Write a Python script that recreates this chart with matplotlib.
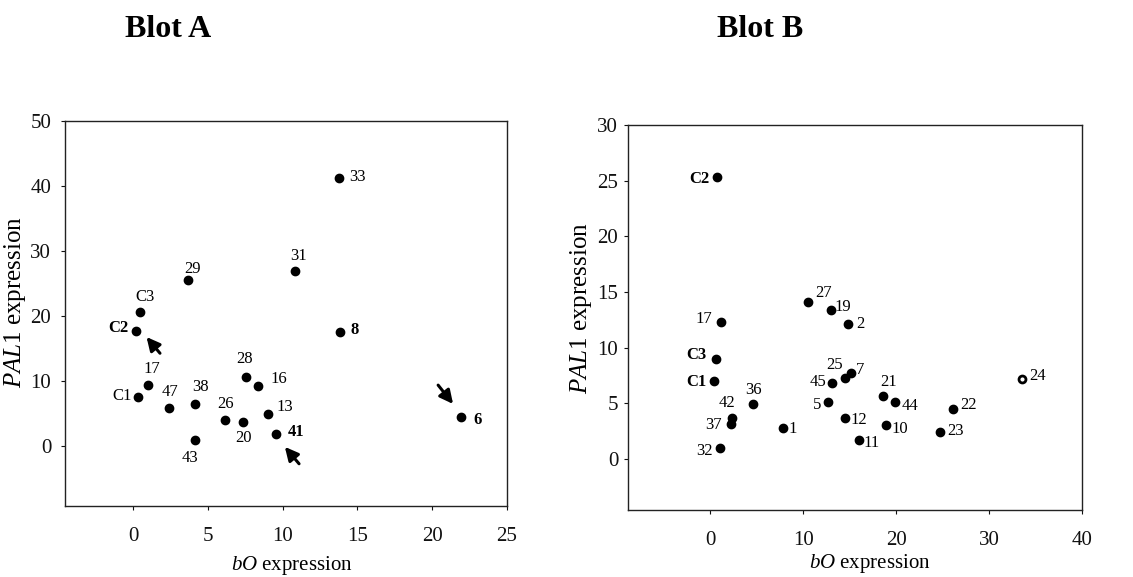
import matplotlib
matplotlib.use('Agg')
import matplotlib.pyplot as plt

plt.rcParams['font.family'] = ['Liberation Serif', 'DejaVu Serif']
plt.rcParams['mathtext.fontset'] = 'custom'
plt.rcParams['mathtext.rm'] = 'Liberation Serif'
plt.rcParams['mathtext.it'] = 'Liberation Serif:italic'

# Blot A: bO vs PAL1 expression per sample
a_names = ['33', '31', '29', 'C3', 'C2', '8', '28', '16', '17', 'C1',
           '47', '38', '26', '20', '13', '41', '43', '6']
a_bo = [13.8, 10.83, 3.68, 0.45, 0.18, 13.84, 7.54, 8.37, 1.0, 0.36,
        2.37, 4.15, 6.12, 7.34, 9.0, 9.53, 4.15, 21.94]
a_pal1 = [41.3, 27.0, 25.6, 20.7, 17.8, 17.5, 10.7, 9.3, 9.4, 7.6,
          5.9, 6.5, 4.0, 3.8, 5.0, 1.9, 1.0, 4.5]
a_bold = ['C2', '8', '41', '6']
# arrows (tail -> head) in data units
a_arrows = [((1.8, 14.3), (0.9, 16.8)),
            ((11.1, -2.7), (10.15, -0.1)),
            ((20.4, 9.4), (21.4, 6.5))]

# Blot B
b_names = ['C2', '27', '19', '2', '17', 'C3', 'C1', '25', '7', '45',
           '24', '21', '44', '5', '36', '22', '42', '37', '12', '1',
           '10', '23', '11', '32']
b_bo = [0.75, 10.54, 12.94, 14.8, 1.11, 0.57, 0.43, 14.48, 15.1, 13.15,
        33.5, 18.57, 19.9, 12.65, 4.55, 26.1, 2.37, 2.22, 14.55, 7.85,
        18.92, 24.7, 16.0, 1.0]
b_pal1 = [25.36, 14.1, 13.4, 12.1, 12.3, 8.95, 7.0, 7.25, 7.7, 6.8,
          7.15, 5.66, 5.1, 5.1, 4.9, 4.5, 3.65, 3.14, 3.65, 2.8,
          3.0, 2.4, 1.65, 0.96]
b_bold = ['C2', 'C3', 'C1']
b_hollow = ['24']

# label placement: name -> (dx px, dy px, ha)
a_offsets = {
    '33': (10, 1, 'left'), '31': (3, 15, 'center'), '29': (4, 11, 'center'),
    'C3': (5, 15, 'center'), 'C2': (-7, 3, 'right'), '8': (10, 2, 'left'),
    '28': (-1, 18, 'center'), '16': (12, 7, 'left'), '17': (4, 16, 'center'),
    'C1': (-7, 1, 'right'), '47': (1, 16, 'center'), '38': (5, 17, 'center'),
    '26': (1, 16, 'center'), '20': (1, -16, 'center'), '13': (9, 7, 'left'),
    '41': (12, 2, 'left'), '43': (-5, -18, 'center'), '6': (12, -3, 'left'),
}
b_offsets = {
    'C2': (-8, -2, 'right'), '27': (7, 9, 'left'), '19': (4, 3, 'left'),
    '2': (8, 0, 'left'), '17': (-8, 3, 'right'), 'C3': (-9, 4, 'right'),
    'C1': (-8, -1, 'right'), '25': (-10, 13, 'center'), '7': (5, 3, 'left'),
    '45': (-6, 1, 'right'), '24': (8, 3, 'left'), '21': (6, 14, 'center'),
    '44': (6, -4, 'left'), '5': (-7, -3, 'right'), '36': (1, 14, 'center'),
    '22': (7, 4, 'left'), '42': (-5, 15, 'center'), '37': (-9, -1, 'right'),
    '12': (5, -2, 'left'), '1': (5, -1, 'left'), '10': (5, -4, 'left'),
    '23': (7, 1, 'left'), '11': (5, -3, 'left'), '32': (-7, -3, 'right'),
}

fig = plt.figure(figsize=(11.33, 5.77), dpi=100)
ax_a = fig.add_axes([0.0574, 0.123, 0.390, 0.667])
ax_b = fig.add_axes([0.5543, 0.1161, 0.4007, 0.667])


def style_axes(ax):
    for sp in ax.spines.values():
        sp.set_color('#222222')
        sp.set_linewidth(1.0)
    ax.tick_params(direction='out', length=3, width=0.8, labelsize=15,
                   colors='#111111')


def draw_points(ax, names, xs, ys, offsets, bold, hollow=()):
    for n, x, y in zip(names, xs, ys):
        if n in hollow:
            ax.plot(x, y, 'o', ms=5, mfc='white', mec='black', mew=2, zorder=3)
        else:
            ax.plot(x, y, 'o', ms=6, color='black', zorder=3)
        dx, dy, ha = offsets[n]
        ax.annotate(n, (x, y), xytext=(dx, dy), textcoords='offset pixels',
                    ha=ha, va='center', fontsize=12,
                    fontweight='bold' if n in bold else 'normal')


# Blot A
draw_points(ax_a, a_names, a_bo, a_pal1, a_offsets, a_bold)
for tail, head in a_arrows:
    ax_a.annotate('', xy=head, xytext=tail,
                  arrowprops=dict(arrowstyle='-|>', color='black', lw=2.2,
                                  mutation_scale=20, shrinkA=0, shrinkB=0))
ax_a.set_xlim(-4.55, 25)
ax_a.set_ylim(-9.2, 50)
ax_a.set_xticks([0, 5, 10, 15, 20, 25])
ax_a.set_yticks([0, 10, 20, 30, 40, 50])
style_axes(ax_a)
ax_a.tick_params(axis='x', pad=12)
ax_a.tick_params(axis='y', pad=7)
ax_a.set_xlabel(r'$\mathit{bO}$ expression', fontsize=15)
ax_a.set_ylabel(r'$\mathit{PAL1}$ expression', fontsize=18)
ax_a.xaxis.set_label_coords(0.514, -0.125)
ax_a.yaxis.set_label_coords(-0.083, 0.53)

# Blot B
draw_points(ax_b, b_names, b_bo, b_pal1, b_offsets, b_bold, b_hollow)
ax_b.set_xlim(-8.85, 40)
ax_b.set_ylim(-4.6, 30)
ax_b.set_xticks([0, 10, 20, 30, 40])
ax_b.set_yticks([0, 5, 10, 15, 20, 25, 30])
style_axes(ax_b)
ax_b.tick_params(axis='x', pad=12)
ax_b.tick_params(axis='y', pad=4)
ax_b.set_xlabel(r'$\mathit{bO}$ expression', fontsize=15)
ax_b.set_ylabel(r'$\mathit{PAL1}$ expression', fontsize=18)
ax_b.xaxis.set_label_coords(0.533, -0.108)
ax_b.yaxis.set_label_coords(-0.076, 0.525)

fig.text(0.110, 0.936, 'Blot A', fontsize=23, fontweight='bold', va='baseline')
fig.text(0.633, 0.936, 'Blot B', fontsize=23, fontweight='bold', va='baseline')

fig.savefig('out.png', dpi=100)
